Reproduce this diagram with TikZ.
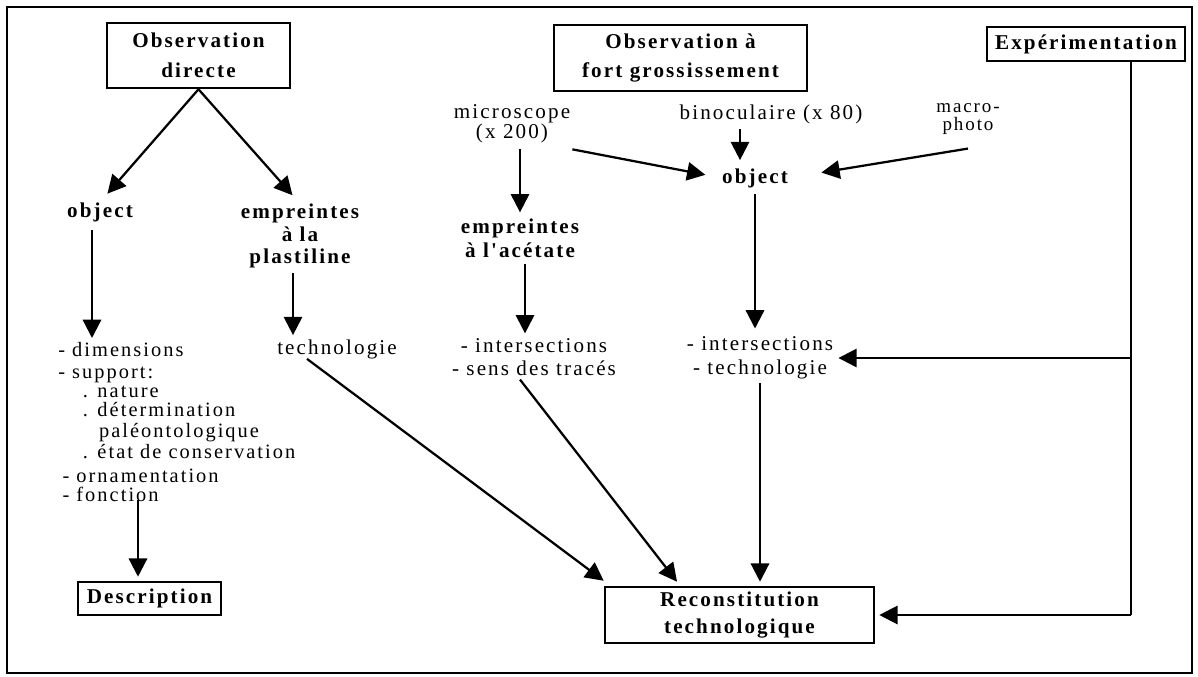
\documentclass[tikz,border=0pt]{standalone}
\usepackage{fontspec}
\setmainfont{Liberation Serif}
\newfontfamily\spaced[LetterSpace=10]{Liberation Serif}
\usetikzlibrary{calc,arrows.meta}

\tikzset{
	box/.style={draw, line width=1.8pt, align=center, inner sep=0pt, font=\spaced\bfseries\fontsize{15}{21}\selectfont},
	bold/.style={inner sep=0pt, align=center, font=\spaced\bfseries\fontsize{15}{16}\selectfont},
	plain/.style={inner sep=0pt, align=center, font=\spaced\fontsize{15}{14}\selectfont},
	arr/.style={line width=1.6pt, -{Triangle[length=13pt,width=13pt]}},
	link/.style={line width=1.5pt}
}

\begin{document}
\begin{tikzpicture}[x=0.025cm,y=-0.025cm]
	\useasboundingbox (0,0) rectangle (1198,677);
	\draw[line width=1pt] (7,7) rectangle (1192,673);
	
	%boxes
	\node[box, minimum width=4.575cm, minimum height=1.625cm] (obsD) at (198.5,55.5) {Observation\\directe};
	\node[box, minimum width=6.325cm, minimum height=1.65cm] (obsF) at (680.5,58) {Observation à\\fort grossissement};
	\node[box, minimum width=4.95cm, minimum height=0.85cm] (exp) at (1086,44) {Expérimentation};
	\node[box, minimum width=3.575cm, minimum height=0.825cm] (desc) at (149.5,598.5) {Description};
	\node[box, minimum width=6.725cm, minimum height=1.4cm, font=\spaced\bfseries\fontsize{15}{18.5}\selectfont] (recon) at (739.5,615) {Reconstitution\\technologique};
	
	%labels
	\node[bold] (objL) at (100,212) {object};
	\node[bold] (empL) at (300,236) {empreintes\\à la\\plastiline};
	\node[plain] (micro) at (512,124) {microscope\\(x 200)};
	\node[plain] (bino) at (771,114) {binoculaire (x 80)};
	\node[plain, font=\spaced\fontsize{13.5}{12.5}\selectfont] (macro) at (968,119) {macro-\\photo};
	\node[bold] (objR) at (755,178) {object};
	\node[bold, font=\spaced\bfseries\fontsize{15}{17}\selectfont] (empR) at (520,238) {empreintes\\à l'acétate};
	\node[plain] (techL) at (337,349) {technologie};
	\node[plain, font=\spaced\fontsize{15}{16}\selectfont] (intL) at (534,357) {- intersections\\- sens des tracés};
	\node[plain, font=\spaced\fontsize{15}{17}\selectfont] (intR) at (760,358) {- intersections\\- technologie};
	%
	\node[plain, align=left, anchor=north west, font=\spaced\fontsize{14.5}{13.5}\selectfont] (lst) at (58,342)
		{- dimensions\\[2pt]
		 - support:\\
		 \hspace*{17.5pt}. nature\\
		 \hspace*{17.5pt}. détermination\\[1.4pt]
		 \hspace*{29pt}paléontologique\\[2pt]
		 \hspace*{17.5pt}. état de conservation\\[3.3pt]
		 \hspace*{3pt}- ornamentation\\
		 \hspace*{3pt}- fonction};
	
	%arrows
	\draw[arr, shorten >=8pt] (obsD.south) -- (objL.north);
	\draw[arr, shorten >=8pt] (obsD.south) -- (empL.north);
	\coordinate (objx) at ($(objL.south)+(-8,8)$);
	\draw[arr] (objx) -- ($(objx |- lst.north)+(0,-4)$);
	\coordinate (empx) at ($(empL.south)+(-7,5)$);
	\draw[arr] (empx) -- ($(empx |- techL.north)+(0,-4)$);
	\coordinate (fonx) at ($(lst.south west)+(80,-2)$);
	\draw[arr] (fonx) -- ($(fonx |- desc.north)+(0,-4)$);
	\draw[arr] ($(techL.south west)!0.25!(techL.south east)$) -- ($(recon.north west)+(0,-5)$);
	%
	\coordinate (micx) at ($(micro.south)+(8,6)$);
	\draw[arr] (micx) -- ($(micx |- empR.north)+(0,-6)$);
	\draw[arr, shorten >=12pt] ($(micro.south east)+(2,6)$) -- (objR.west);
	\coordinate (binx) at ($(objR.north)+(-15,0)$);
	\draw[arr] (binx |- bino.south) ++(0,5) -- ($(binx)+(0,-8)$);
	\draw[arr, shorten >=24pt] ($(macro.south)+(0,14)$) -- (objR.east);
	\draw[arr] ($(objR.south)+(0,6)$) -- ($(objR.south |- intR.north)+(0,-8)$);
	\coordinate (empRx) at ($(empR.south)+(5,6)$);
	\draw[arr] (empRx) -- ($(empRx |- intL.north)+(0,-5)$);
	\draw[arr] ($(intL.south)+(-14,4)$) -- ($(recon.north west)!0.27!(recon.north east)+(0,-4)$);
	\draw[arr] ($(intR.south)+(0,4)$) -- ($(intR.south |- recon.north)+(0,-4)$);
	%
	\coordinate (expx) at ($(exp.south)+(45,0)$);
	\draw[link] (expx) -- (expx |- recon.east);
	\draw[arr] (expx |- recon.east) -- ($(recon.east)+(4,0)$);
	\draw[arr] (expx |- intR.east) -- ($(intR.east)+(5,0)$);
\end{tikzpicture}
\end{document}
